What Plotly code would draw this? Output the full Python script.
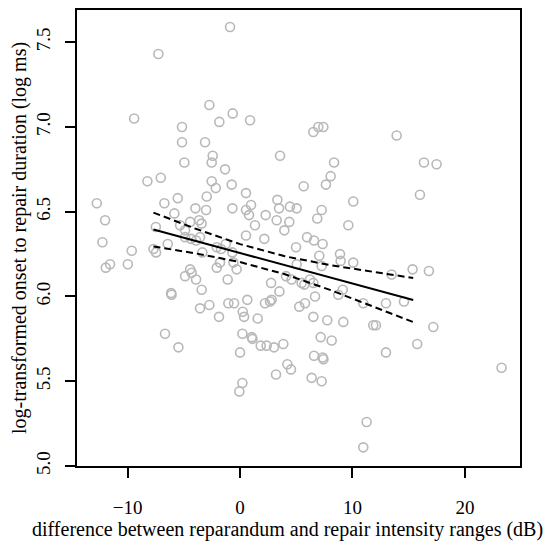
import plotly.graph_objects as go

# Scatter data: intensity-range difference (dB) vs log onset-to-repair duration
diff_db = [
    -0.89, -7.26, -2.73, -0.65, -1.84, 0.89, -9.42, -5.16, -5.16, -3.11,
    -2.43, -2.52, -4.95, -1.33, 3.56, 6.52, 6.96, 7.41, -8.24, -7.05,
    -2.52, -2.16, -0.74, 5.66, 0.53, -2.96, -5.54, -6.73, -12.74, 0.98,
    3.32, 3.47, 4.44, 5.04, -3.97, -3.02, -0.68, 0.53, -5.84, 0.80,
    2.28, -12.0, 3.26, 4.38, -4.44, -3.64, -3.42, 1.33, -7.49, -5.33,
    3.94, -4.89, 5.96, 6.58, 7.35, 2.16, 0.53, -12.24, -9.63, -7.70,
    -7.47, -6.43, -4.89, -4.36, -3.91, -3.56, -2.07, -1.69, -1.27, -0.68,
    4.98, -3.35, -11.94, -11.56, -9.98, -0.30, -0.59, -2.07, -1.78, -4.44,
    -4.30, -4.89, -3.91, -3.41, -6.13, -6.09, -1.10, 5.04, 2.76, 3.50,
    4.09, 4.59, 5.48, 5.72, 6.22, 6.52, 6.67, 5.27, 5.78, 6.52,
    -3.56, -2.73, -1.87, -1.04, -0.53, 0.65, 0.24, 0.36, 1.57, 2.22,
    2.67, 2.81, -6.67, -5.48, 0.21, 1.04, 1.11, 1.84, 2.37, 3.02,
    3.85, 0.0, 4.21, 4.53, 3.20, 0.21, -0.06, 6.58, 6.37, 7.26,
    7.17, 7.05, 7.26, 8.89, 8.95, 10.07, 13.48, 15.35, 16.80, 9.13,
    8.74, 10.96, 12.98, 14.58, 7.76, 9.19, 11.85, 12.09, 17.19, 8.15,
    15.76, 12.98, 7.35, 7.42, 23.26, 11.26, 10.96, 13.93, 16.36, 17.48,
    8.36, 7.64, 8.06, 10.07, 6.87, 7.26, 9.63, 16.0,
]
log_duration = [
    7.59, 7.43, 7.13, 7.08, 7.03, 7.04, 7.05, 7.00, 6.91, 6.91,
    6.83, 6.79, 6.79, 6.75, 6.83, 6.97, 7.00, 7.00, 6.68, 6.70,
    6.68, 6.64, 6.66, 6.65, 6.61, 6.59, 6.58, 6.55, 6.55, 6.54,
    6.57, 6.52, 6.53, 6.52, 6.52, 6.51, 6.52, 6.51, 6.49, 6.48,
    6.48, 6.45, 6.45, 6.44, 6.44, 6.45, 6.43, 6.42, 6.41, 6.42,
    6.39, 6.39, 6.35, 6.33, 6.31, 6.34, 6.36, 6.32, 6.27, 6.28,
    6.26, 6.31, 6.35, 6.34, 6.33, 6.35, 6.29, 6.28, 6.31, 6.26,
    6.29, 6.26, 6.17, 6.19, 6.19, 6.16, 6.20, 6.17, 6.20, 6.16,
    6.14, 6.12, 6.10, 6.04, 6.02, 6.01, 6.10, 6.19, 6.08, 6.03,
    6.12, 6.10, 6.08, 6.07, 6.10, 6.08, 6.00, 5.94, 5.96, 5.88,
    5.93, 5.95, 5.88, 5.96, 5.96, 5.98, 5.91, 5.88, 5.87, 5.96,
    5.97, 5.98, 5.78, 5.70, 5.78, 5.76, 5.75, 5.71, 5.71, 5.70,
    5.72, 5.67, 5.60, 5.57, 5.54, 5.49, 5.44, 5.65, 5.52, 5.50,
    5.76, 6.24, 6.18, 6.25, 6.21, 6.20, 6.13, 6.16, 6.15, 6.04,
    6.01, 5.96, 5.96, 5.97, 5.86, 5.85, 5.83, 5.83, 5.82, 5.74,
    5.72, 5.67, 5.64, 5.63, 5.58, 5.26, 5.11, 6.95, 6.79, 6.78,
    6.79, 6.66, 6.71, 6.56, 6.46, 6.51, 6.42, 6.60,
]

# Fitted regression line and its confidence band
fit_x = [-7.7, -4.0, 0.0, 4.0, 8.0, 12.0, 15.4]
fit_y = [6.395, 6.328, 6.256, 6.184, 6.112, 6.040, 5.979]
ci_upper = [6.495, 6.401, 6.309, 6.237, 6.185, 6.142, 6.109]
ci_lower = [6.295, 6.255, 6.203, 6.131, 6.039, 5.938, 5.849]

x_ticks = [-10, 0, 10, 20]
y_ticks = [5.0, 5.5, 6.0, 6.5, 7.0, 7.5]
y_tick_text = ["5.0", "5.5", "6.0", "6.5", "7.0", "7.5"]

x_title = "difference between reparandum and repair intensity ranges (dB)"
y_title = "log-transformed onset to repair duration (log ms)"

fig = go.Figure()
fig.add_trace(go.Scatter(
    x=diff_db, y=log_duration, mode="markers",
    marker=dict(symbol="circle-open", size=9, color="#b8b8b8",
                line=dict(width=1.6, color="#b8b8b8")),
    showlegend=False, hoverinfo="skip",
))
for band in (ci_upper, ci_lower):
    fig.add_trace(go.Scatter(
        x=fit_x, y=band, mode="lines",
        line=dict(color="black", width=2, dash="7px,4px"),
        showlegend=False, hoverinfo="skip",
    ))
fig.add_trace(go.Scatter(
    x=fit_x, y=fit_y, mode="lines",
    line=dict(color="black", width=2),
    showlegend=False, hoverinfo="skip",
))

font_family = "Liberation Serif, Times New Roman, serif"
# The page body adds an 8px margin, so the figure is sized to fit inside it.
fig.update_layout(
    width=550, height=535,
    margin=dict(l=69, r=38, t=2, b=77),
    paper_bgcolor="white", plot_bgcolor="white",
    font=dict(family=font_family, size=19, color="black"),
    xaxis=dict(
        range=[-14.5, 24.9], tickvals=x_ticks, automargin=False,
        ticks="outside", ticklen=10, tickwidth=1.5, tickcolor="black",
        showline=True, linecolor="black", linewidth=1.5, mirror=True,
        showgrid=False, zeroline=False, ticklabelstandoff=13,
        tickfont=dict(size=19),
    ),
    yaxis=dict(
        range=[5.0, 7.69], tickvals=y_ticks, ticktext=y_tick_text,
        tickangle=-90, automargin=False,
        ticks="outside", ticklen=10, tickwidth=1.5, tickcolor="black",
        showline=True, linecolor="black", linewidth=1.5, mirror=True,
        showgrid=False, zeroline=False, ticklabelstandoff=8,
        tickfont=dict(size=19),
    ),
    annotations=[
        dict(text=x_title, xref="paper", yref="paper", x=0.476, y=0,
             yshift=-63, xanchor="center", yanchor="middle",
             showarrow=False, font=dict(size=20)),
        dict(text=y_title, xref="paper", yref="paper", x=0, y=0.5,
             xshift=-58, xanchor="center", yanchor="middle", textangle=-90,
             showarrow=False, font=dict(size=20)),
    ],
)

fig.write_html("out.html")
